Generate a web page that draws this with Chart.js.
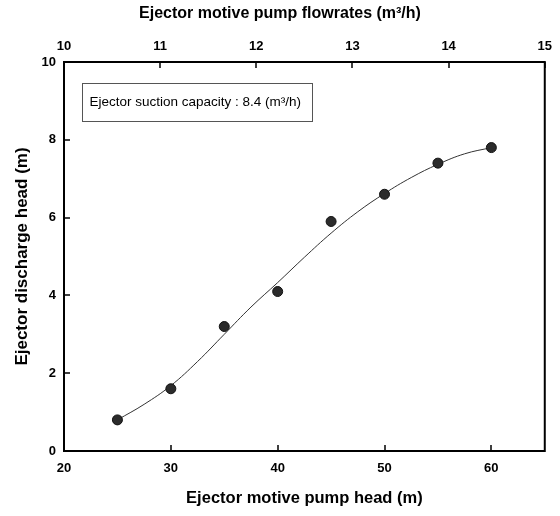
<!DOCTYPE html>
<html>
<head>
<meta charset="utf-8">
<script src="https://cdn.jsdelivr.net/npm/chart.js"></script>
<style>
  html, body { margin: 0; padding: 0; background: #fff; }
  #wrap { width: 560px; height: 516px; }
</style>
</head>
<body>
<div id="wrap"><canvas id="mychart" width="560" height="516"></canvas></div>
<script>
// measured points
var pumpHead = [25, 30, 35, 40, 45, 50, 55, 60];
var dischargeHead = [0.8, 1.6, 3.2, 4.1, 5.9, 6.6, 7.4, 7.8];

// fitted curve
var fitHead = [25, 27.5, 30, 32.5, 35, 37.5, 40, 42.5, 45, 47.5, 50, 52.5, 55, 57.5, 60];
var fitDischarge = [0.8, 1.2, 1.68, 2.3, 3.0, 3.7, 4.33, 4.98, 5.6, 6.15, 6.62, 7.03, 7.37, 7.64, 7.8];

var headTicks = [20, 30, 40, 50, 60];
var flowTicks = [10, 11, 12, 13, 14, 15];
var topTitle = 'Ejector motive pump flowrates (m\u00b3/h)';
var noteText = 'Ejector suction capacity : 8.4 (m\u00b3/h)';

var pts = pumpHead.map(function (x, i) { return { x: x, y: dischargeHead[i] }; });
var fit = fitHead.map(function (x, i) { return { x: x, y: fitDischarge[i] }; });

var fontFam = '"Liberation Sans", Arial, sans-serif';

// frame, inward ticks, top title and the note box
var framePlugin = {
  id: 'frame',
  afterDraw: function (chart) {
    var ctx = chart.ctx, a = chart.chartArea;
    ctx.save();
    ctx.strokeStyle = '#000';
    ctx.lineWidth = 2;
    ctx.strokeRect(a.left, a.top, a.right - a.left, a.bottom - a.top);

    ctx.lineWidth = 1.5;
    ctx.beginPath();
    var sx = chart.scales.x, sy = chart.scales.y, st = chart.scales.x2;
    sx.ticks.forEach(function (t) {
      var p = Math.round(sx.getPixelForValue(t.value));
      ctx.moveTo(p, a.bottom); ctx.lineTo(p, a.bottom - 6);
    });
    st.ticks.forEach(function (t) {
      var p = Math.round(st.getPixelForValue(t.value));
      ctx.moveTo(p, a.top); ctx.lineTo(p, a.top + 6);
    });
    sy.ticks.forEach(function (t) {
      var p = Math.round(sy.getPixelForValue(t.value));
      ctx.moveTo(a.left, p); ctx.lineTo(a.left + 6, p);
    });
    ctx.stroke();

    // top title, centred on the page like the original
    ctx.fillStyle = '#000';
    ctx.font = 'bold 16px ' + fontFam;
    ctx.textAlign = 'center';
    ctx.textBaseline = 'middle';
    ctx.fillText(topTitle, chart.width / 2, 14);

    // note box
    var bx = a.left + 18.5, by = a.top + 21.5;
    ctx.lineWidth = 1;
    ctx.strokeStyle = '#555';
    ctx.strokeRect(bx, by, 230, 38);
    ctx.font = '13.5px ' + fontFam;
    ctx.textAlign = 'left';
    ctx.fillText(noteText, bx + 7, by + 19);
    ctx.restore();
  }
};

var ctx = document.getElementById('mychart');
var mychart = new Chart(ctx, {
  type: 'scatter',
  data: {
    datasets: [
      {
        label: 'fit',
        data: fit,
        showLine: true,
        borderColor: '#333',
        borderWidth: 1,
        pointRadius: 0,
        tension: 0.4,
        fill: false,
        order: 2
      },
      {
        label: 'measured',
        data: pts,
        backgroundColor: '#2b2b2b',
        borderColor: '#111',
        borderWidth: 1,
        pointRadius: 5,
        order: 1
      }
    ]
  },
  options: {
    responsive: false,
    animation: false,
    layout: { padding: { left: 0, right: 15, top: 0, bottom: 0 } },
    plugins: { legend: { display: false }, tooltip: { enabled: false } },
    scales: {
      x: {
        type: 'linear',
        position: 'bottom',
        min: 20, max: 65,
        afterBuildTicks: function (s) { s.ticks = headTicks.map(function (v) { return { value: v }; }); },
        afterFit: function (s) { s.height = 65; },
        grid: { display: false, drawTicks: false },
        border: { display: false },
        ticks: { color: '#000', padding: 10, font: { family: fontFam, size: 13, weight: 'bold' } },
        title: {
          display: true,
          text: 'Ejector motive pump head (m)',
          color: '#000',
          padding: { top: 0, bottom: 8 },
          font: { family: fontFam, size: 16.5, weight: 'bold' }
        }
      },
      x2: {
        type: 'linear',
        position: 'top',
        min: 10, max: 15,
        afterBuildTicks: function (s) { s.ticks = flowTicks.map(function (v) { return { value: v }; }); },
        afterFit: function (s) { s.height = 62; },
        grid: { display: false, drawTicks: false },
        border: { display: false },
        ticks: { color: '#000', padding: 8, font: { family: fontFam, size: 13, weight: 'bold' } },
        title: { display: false }
      },
      y: {
        type: 'linear',
        position: 'left',
        min: 0, max: 10,
        ticks: { stepSize: 2, color: '#000', padding: 8, font: { family: fontFam, size: 13, weight: 'bold' } },
        afterFit: function (s) { s.width = 64; },
        grid: { display: false, drawTicks: false },
        border: { display: false },
        title: {
          display: true,
          text: 'Ejector discharge head (m)',
          color: '#000',
          padding: { top: 12, bottom: 0 },
          font: { family: fontFam, size: 17, weight: 'bold' }
        }
      }
    }
  },
  plugins: [framePlugin]
});
</script>
</body>
</html>
